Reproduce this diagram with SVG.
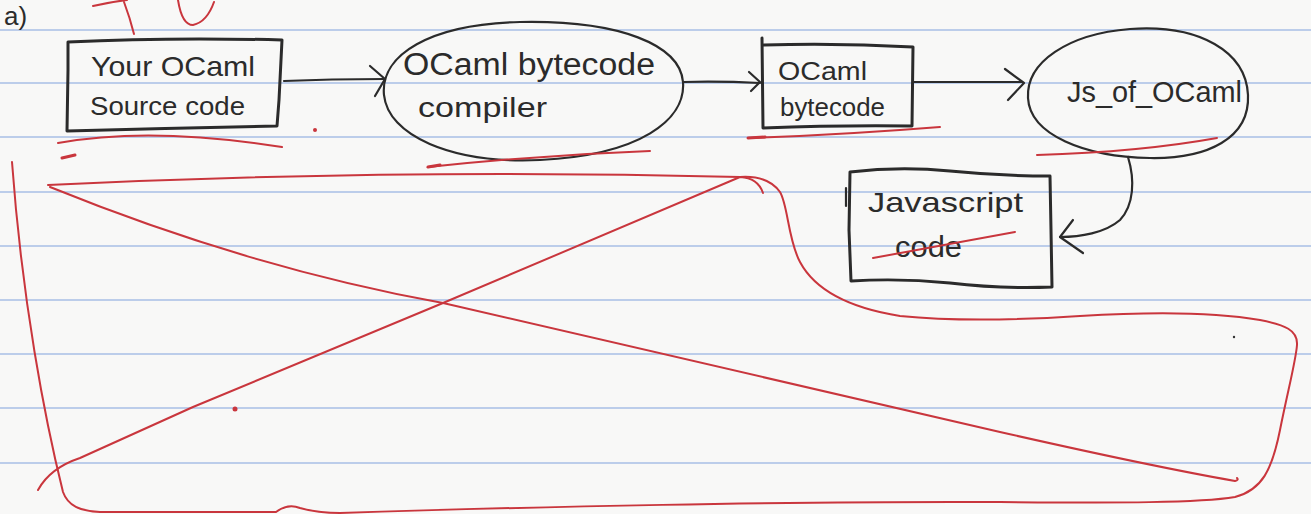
<svg xmlns="http://www.w3.org/2000/svg" width="1311" height="514" viewBox="0 0 1311 514">
<style>
.ruled{stroke:#a9bfe6;stroke-width:1.3;fill:none}
.ink{stroke:#2b2b2b;stroke-width:3;fill:none;stroke-linejoin:round;stroke-linecap:round}
.inkthin{stroke:#2b2b2b;stroke-width:2.2;fill:none;stroke-linejoin:round;stroke-linecap:round}
.red{stroke:#c9363d;stroke-width:2;fill:none;stroke-linecap:round;stroke-linejoin:round}
.redthick{stroke:#c9363d;stroke-width:3;fill:none;stroke-linecap:round}
.t{font-family:"Liberation Sans",Arial,sans-serif;fill:#2b2b2b}
</style>
<rect width="1311" height="514" fill="#f8f8f7"/>
<g id="paper-lines">
<line class="ruled" x1="0" y1="30" x2="1311" y2="30"/>
<line class="ruled" x1="0" y1="83" x2="1311" y2="83"/>
<line class="ruled" x1="0" y1="137" x2="1311" y2="137"/>
<line class="ruled" x1="0" y1="192" x2="1311" y2="192"/>
<line class="ruled" x1="0" y1="246" x2="1311" y2="246"/>
<line class="ruled" x1="0" y1="300" x2="1311" y2="300"/>
<line class="ruled" x1="0" y1="354" x2="1311" y2="354"/>
<line class="ruled" x1="0" y1="408" x2="1311" y2="408"/>
<line class="ruled" x1="0" y1="463" x2="1311" y2="463"/>
</g>
<text class="t" x="4" y="25" font-size="26">a)</text>
<g id="source">
<path class="ink" d="M68,42 Q170,37 282,40 L279,100 L277,126 Q170,128 67,131 L68,70 Z"/>
<text class="t" x="91" y="76" font-size="28" textLength="164" lengthAdjust="spacingAndGlyphs">Your OCaml</text>
<text class="t" x="90" y="115" font-size="26" textLength="155" lengthAdjust="spacingAndGlyphs">Source code</text>
</g>
<g id="compiler">
<path class="inkthin" d="M384,95 C380,55 430,24 520,22 C620,20 680,45 683,82 C686,120 640,155 540,160 C450,164 388,135 384,95 Z"/>
<text class="t" x="403" y="75" font-size="31" textLength="252" lengthAdjust="spacingAndGlyphs">OCaml bytecode</text>
<text class="t" x="418" y="117" font-size="28" textLength="129" lengthAdjust="spacingAndGlyphs">compiler</text>
</g>
<g id="bytecode">
<path class="ink" d="M764,45 Q840,43 913,47 L912,126 Q840,125 763,128 L762,38"/>
<text class="t" x="778" y="80" font-size="26" textLength="89" lengthAdjust="spacingAndGlyphs">OCaml</text>
<text class="t" x="780" y="116" font-size="26" textLength="105" lengthAdjust="spacingAndGlyphs">bytecode</text>
</g>
<g id="jsofocaml">
<path class="inkthin" d="M1028,98 C1026,62 1068,34 1130,29 C1200,24 1246,52 1248,95 C1250,138 1208,159 1150,158 C1085,157 1030,135 1028,98 Z"/>
<text class="t" x="1067" y="102" font-size="30" textLength="175" lengthAdjust="spacingAndGlyphs">Js_of_OCaml</text>
</g>
<g id="javascript">
<path class="ink" d="M850,172 Q900,166 950,171 Q1000,176 1050,176 L1051,230 L1052,287 Q1000,289 950,283 Q900,278 851,281 L849,230 Z"/>
<path class="inkthin" d="M846,188 L846,206"/>
<text class="t" x="868" y="212" font-size="28" textLength="155" lengthAdjust="spacingAndGlyphs">Javascript</text>
<text class="t" x="895" y="257" font-size="30" textLength="67" lengthAdjust="spacingAndGlyphs">code</text>
</g>
<g id="connectors">
<path class="inkthin" d="M284,81 Q330,79 385,79"/>
<path class="inkthin" d="M370,66 L385,79 L375,96"/>
<path class="inkthin" d="M683,82 Q720,81 760,83"/>
<path class="inkthin" d="M749,72 L760,82 L751,91"/>
<path class="inkthin" d="M913,82 L1022,82"/>
<path class="inkthin" d="M1005,69 L1024,83 L1008,100"/>
<path class="inkthin" d="M1128,157 C1135,180 1134,205 1120,220 C1105,233 1080,237 1060,237"/>
<path class="inkthin" d="M1073,220 L1060,237 L1083,253"/>
</g>
<g id="red-annotations">
<path class="red" d="M93,6 Q110,2 127,0"/>
<path class="red" d="M124,2 Q130,18 134,34"/>
<path class="red" d="M178,0 Q182,25 193,25 Q207,22 214,2"/>
<path class="red" d="M58,143 Q150,126 282,147"/>
<path class="redthick" d="M62,158 L75,155"/>
<circle cx="315" cy="130" r="2" fill="#c9363d"/>
<path class="red" d="M428,167 Q540,155 650,151"/>
<path class="redthick" d="M428,167 L440,165"/>
<path class="red" d="M748,138 Q840,135 940,127"/>
<path class="redthick" d="M748,138 L765,137"/>
<path class="red" d="M1037,155 Q1140,152 1217,138"/>
<path class="red" d="M873,258 L1015,232"/>
<path class="red" d="M12,162 C22,300 45,420 63,492 C68,506 80,511 100,512 L276,512 Q288,503 300,508 Q318,513 340,513 C520,507 800,501 1000,502 C1120,503 1200,503 1235,497 C1262,490 1272,470 1280,430 C1288,390 1296,360 1297,345 C1298,330 1285,325 1260,320 C1220,313 1160,311 1080,316 C1020,320 960,322 900,316 C850,308 815,290 800,262 C788,240 788,205 780,192 C770,178 755,176 740,177 Q400,168 48,185"/>
<path class="red" d="M50,187 Q250,268 443,303 L1000,432 Q1150,466 1235,481 Q1239,480 1237,478"/>
<path class="red" d="M38,490 Q50,468 80,458 L193,407 L443,303 L740,177 Q758,178 763,193"/>
<circle cx="235" cy="409" r="2.5" fill="#c9363d"/>
<circle cx="1234" cy="337" r="1.2" fill="#333"/>
</g>
</svg>
